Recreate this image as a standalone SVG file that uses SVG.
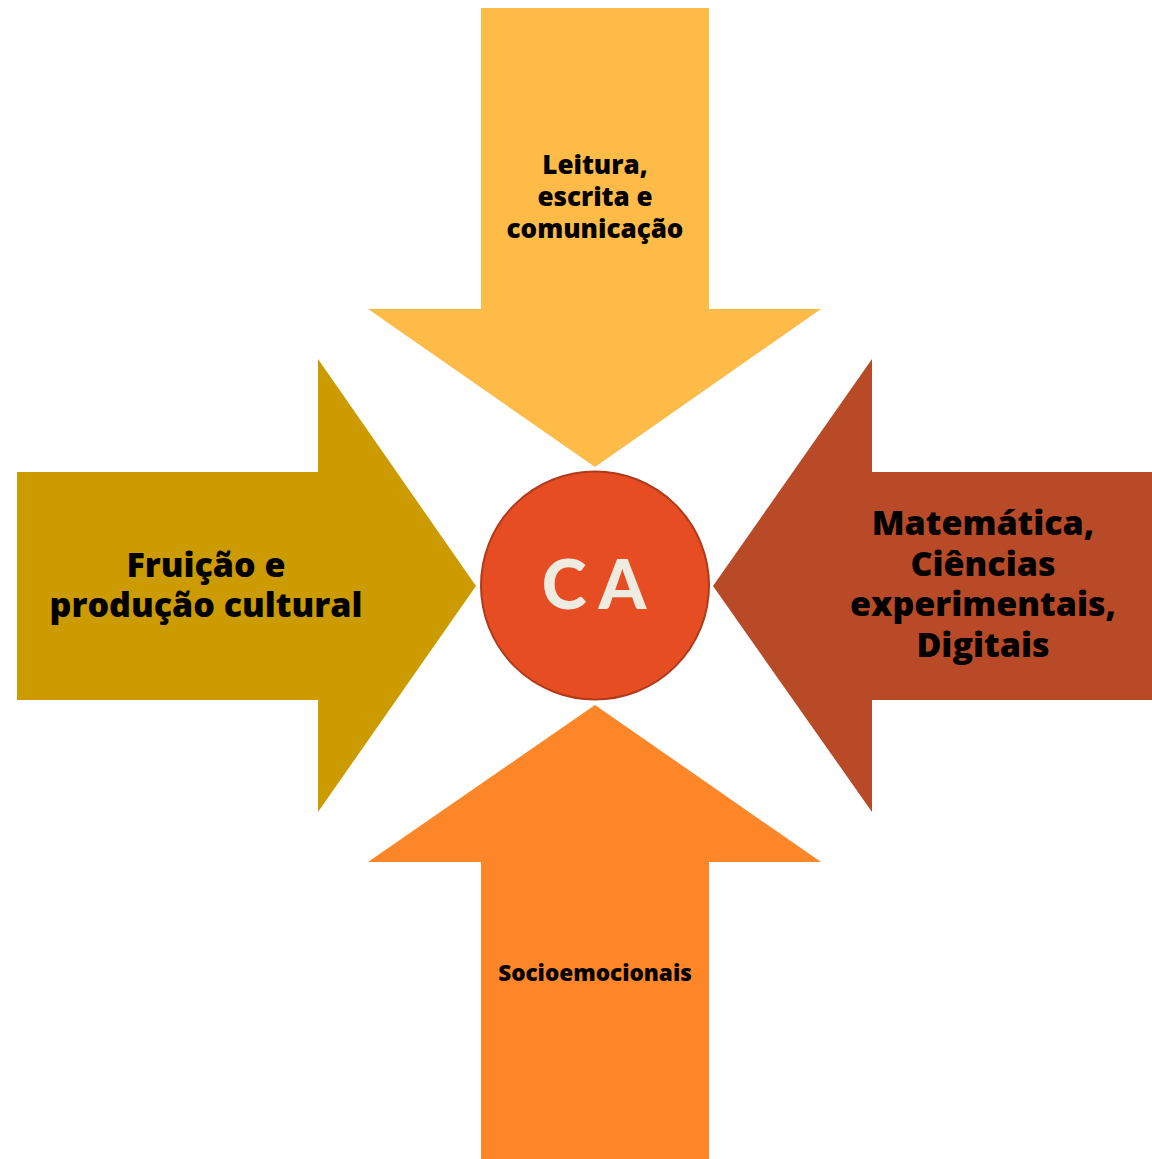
<svg xmlns="http://www.w3.org/2000/svg" width="1152" height="1159" viewBox="0 0 1152 1159">
<style>
.lbl{font-family:"Open Sans","Liberation Sans",sans-serif;font-weight:800;fill:#000;text-anchor:middle}
</style>
<rect width="1152" height="1159" fill="#fff"/>
<g id="connectors">
<g id="arrow-top"><polygon points="481,8 709,8 709,309 821,309 595,467 368,309 481,309" fill="#FEBB48"/>
<text class="lbl" font-size="26"><tspan x="595" y="174">Leitura,</tspan><tspan x="595" y="206">escrita e</tspan><tspan x="595" y="238">comunicação</tspan></text></g>
<g id="arrow-left"><polygon points="17,472 318,472 318,359 476,586 318,812 318,700 17,700" fill="#CC9B00"/>
<text class="lbl" font-size="34"><tspan x="206" y="577">Fruição e</tspan><tspan x="206" y="617">produção cultural</tspan></text></g>
<g id="arrow-right"><polygon points="1152,472 872,472 872,359 713,586 872,812 872,700 1152,700" fill="#B84A27"/>
<text class="lbl" font-size="34"><tspan x="983" y="535">Matemática,</tspan><tspan x="983" y="576">Ciências</tspan><tspan x="983" y="616">experimentais,</tspan><tspan x="983" y="657">Digitais</tspan></text></g>
<g id="arrow-bottom"><polygon points="481,1159 709,1159 709,862 821,862 595,705 368,862 481,862" fill="#FD8629"/>
<text class="lbl" font-size="22.5"><tspan x="595" y="981">Socioemocionais</tspan></text></g>
</g>
<g id="node-ca">
<circle cx="595" cy="585.5" r="114" fill="#E64D23" stroke="#B03A1A" stroke-width="2"/>
<text x="600" y="609" font-family="Lato,'Liberation Sans',sans-serif" font-weight="900" font-size="68" fill="#EEEBE0" text-anchor="middle" letter-spacing="12">CA</text>
</g>
</svg>
